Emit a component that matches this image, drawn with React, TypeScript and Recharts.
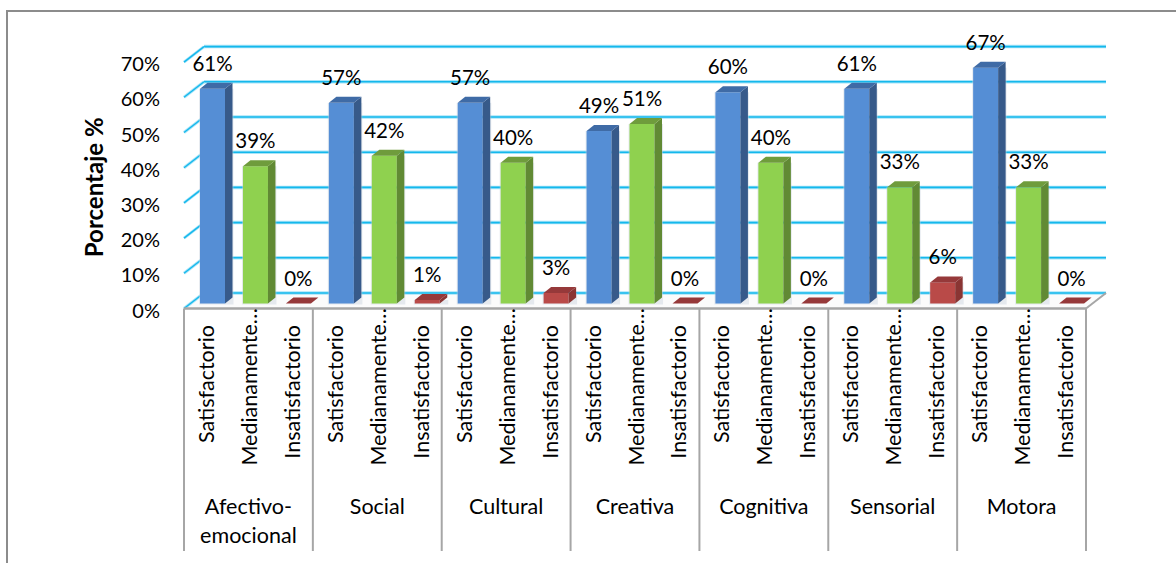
import React from "react";
import { BarChart, Bar, XAxis, YAxis, CartesianGrid, LabelList } from "recharts";

const dimensions = ["Afectivo-emocional", "Social", "Cultural", "Creativa", "Cognitiva", "Sensorial", "Motora"];
const levels = ["Satisfactorio", "Medianamente…", "Insatisfactorio"];
const satisfactorio = [61, 57, 57, 49, 60, 61, 67];
const medianamente = [39, 42, 40, 51, 40, 33, 33];
const insatisfactorio = [0, 1, 3, 0, 0, 6, 0];
const yTicks = [0, 10, 20, 30, 40, 50, 60, 70];

const seriesByLevel = [satisfactorio, medianamente, insatisfactorio];
const rows = dimensions.flatMap((dimension, d) =>
  levels.map((level, l) => ({ dimension, level, levelIndex: l, value: seriesByLevel[l][d] }))
);

const FONT = "Lato, Carlito, sans-serif";
const FRONT = ["#558ed5", "#8fd14f", "#b94a48"];
const SIDE = ["#375a8a", "#618a34", "#8a3533"];
const TOP = ["#3f6ba6", "#6f9c3c", "#96393a"];
const GRID = "#14b8ec";
const GRID_HALO = "#a8e4f8";
const EDGE = "#a6a6a6";

const WIDTH = 1176;
const HEIGHT = 563;
const PLOT_LEFT = 184;
const PLOT_RIGHT = 1086;
const PLOT_TOP = 62.1;
const PLOT_BOTTOM = 308.5;
const WALL_DX = 20;
const WALL_DY = 15.5;
const SLOT = (PLOT_RIGHT - PLOT_LEFT) / rows.length;

// Extruded column: the front face sits a little inside the floor, with a top and side face behind it.
function Column(props: any) {
  const { x, y, width, height, levelIndex } = props;
  const dx = 7.5;
  const dy = 6;
  const fx = x + 7;
  const fy = y - 5;
  const fr = fx + width;
  const fb = fy + height;
  return (
    <g>
      {height > 0 && <rect x={fx - 1} y={fy} width={width + dx + 2} height={height + 1} fill="#c9d3dd" opacity={0.45} />}
      {height > 0 && <rect x={fx} y={fy} width={width} height={height} fill={FRONT[levelIndex]} />}
      {height > 0 && (
        <polygon
          points={`${fr},${fy} ${fr + dx},${fy - dy} ${fr + dx},${fb - dy} ${fr},${fb}`}
          fill={SIDE[levelIndex]}
        />
      )}
      <polygon
        points={`${fx},${fy} ${fx + dx},${fy - dy} ${fr + dx},${fy - dy} ${fr},${fy}`}
        fill={TOP[levelIndex]}
      />
    </g>
  );
}

// Horizontal grid line pushed back onto the rear wall, joined to the front by a short slant.
function WallLine(props: any) {
  const { x1, x2, y1, index } = props;
  const isFloor = y1 > PLOT_BOTTOM - 1;
  const backY = y1 - WALL_DY;
  return (
    <g key={index} fill="none">
      {isFloor && (
        <polygon
          points={`${x1},${y1} ${x1 + WALL_DX},${backY} ${x2 + WALL_DX},${backY} ${x2},${y1}`}
          fill="#fbfbfb"
        />
      )}
      <line x1={x1 + WALL_DX} x2={x2 + WALL_DX} y1={backY} y2={backY} stroke={GRID_HALO} strokeWidth={3.5} />
      <line x1={x1 + WALL_DX} x2={x2 + WALL_DX} y1={backY} y2={backY} stroke={GRID} strokeWidth={1.6} />
      <line x1={x1} x2={x1 + WALL_DX} y1={y1} y2={backY} stroke={GRID_HALO} strokeWidth={3} />
      <line x1={x1} x2={x1 + WALL_DX} y1={y1} y2={backY} stroke={GRID} strokeWidth={1.4} />
      {isFloor && (
        <>
          <line x1={x2} x2={x2 + WALL_DX} y1={y1} y2={backY} stroke={EDGE} strokeWidth={2} />
          <line x1={x1} x2={x2} y1={y1} y2={y1} stroke={EDGE} strokeWidth={2.5} />
        </>
      )}
    </g>
  );
}

function LevelTick(props: any) {
  const { x, payload } = props;
  const label = String(payload.value);
  const anchorY = label.endsWith("…") ? 308 : 325;
  const tx = x + 0.5;
  return (
    <text
      x={tx}
      y={anchorY}
      transform={`rotate(-90 ${tx} ${anchorY})`}
      textAnchor="end"
      dominantBaseline="central"
      fontFamily={FONT}
      fontSize={21.5}
      fill="#000"
    >
      {label}
    </text>
  );
}

function DimensionTick(props: any) {
  const { x, payload, index } = props;
  const label = String(payload.value);
  const hyphen = label.indexOf("-");
  const lines = hyphen >= 0 ? [label.slice(0, hyphen + 1), label.slice(hyphen + 1)] : [label];
  return (
    <g>
      {index % 3 === 0 && (
        <line x1={x - SLOT / 2} x2={x - SLOT / 2} y1={PLOT_BOTTOM} y2={551} stroke={EDGE} strokeWidth={2} />
      )}
      {index === rows.length - 1 && (
        <line x1={x + SLOT / 2} x2={x + SLOT / 2} y1={PLOT_BOTTOM} y2={551} stroke={EDGE} strokeWidth={2} />
      )}
      {index % 3 === 1 &&
        lines.map((line, i) => (
          <text
            key={line}
            x={x}
            y={506 + i * 29}
            textAnchor="middle"
            dominantBaseline="central"
            fontFamily={FONT}
            fontSize={21.5}
            fill="#000"
          >
            {line}
          </text>
        ))}
    </g>
  );
}

function ValueLabel(props: any) {
  const { x, y, width, value } = props;
  return (
    <text
      x={x + width / 2 + 7}
      y={y - 5 - 26}
      textAnchor="middle"
      dominantBaseline="central"
      fontFamily={FONT}
      fontSize={20.5}
      fill="#000"
    >
      {`${value}%`}
    </text>
  );
}

export default function App() {
  return (
    <div style={{ position: "absolute", left: 0, top: 0, width: WIDTH, height: HEIGHT, background: "#fff", overflow: "hidden" }}>
      <div
        style={{
          position: "absolute",
          left: 6,
          top: 10,
          width: 1170,
          height: 553,
          borderLeft: "2px solid #8c8c8c",
          borderTop: "2px solid #8c8c8c",
          boxSizing: "border-box",
        }}
      />
      <div style={{ position: "absolute", left: 0, top: 0 }}>
        <BarChart
          width={WIDTH}
          height={HEIGHT}
          data={rows}
          margin={{ top: PLOT_TOP, right: WIDTH - PLOT_RIGHT, bottom: 12, left: 80 }}
          barSize={25}
        >
          <CartesianGrid vertical={false} horizontal={(p: any) => <WallLine {...p} />} />
          <XAxis
            dataKey="level"
            interval={0}
            height={170}
            axisLine={false}
            tickLine={false}
            tick={(p: any) => <LevelTick {...p} />}
          />
          <XAxis
            xAxisId="dimension"
            dataKey="dimension"
            interval={0}
            height={72.5}
            axisLine={false}
            tickLine={false}
            tick={(p: any) => <DimensionTick {...p} />}
          />
          <YAxis
            domain={[0, 70]}
            ticks={yTicks}
            width={104}
            axisLine={false}
            tickLine={false}
            tickMargin={18}
            tickFormatter={(v: number) => `${v}%`}
            tick={{ fontFamily: FONT, fontSize: 20, fill: "#000", dy: 2 }}
            label={{
              value: "Porcentaje %",
              angle: -90,
              position: "insideLeft",
              dx: 9,
              dy: 2,
              style: { fontFamily: FONT, fontSize: 24, fontWeight: 700, fill: "#000", textAnchor: "middle" },
            }}
          />
          <Bar dataKey="value" isAnimationActive={false} shape={(p: any) => <Column {...p} />}>
            <LabelList dataKey="value" content={(p: any) => <ValueLabel {...p} />} />
          </Bar>
        </BarChart>
      </div>
    </div>
  );
}
